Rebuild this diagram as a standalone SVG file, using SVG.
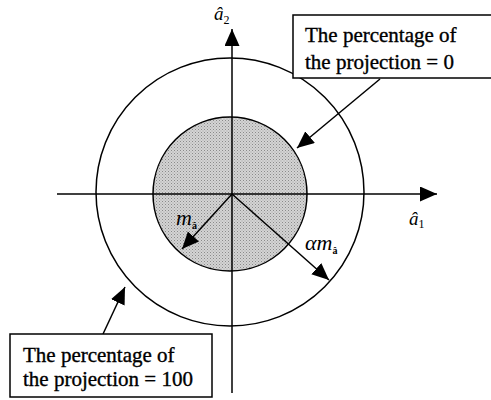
<svg xmlns="http://www.w3.org/2000/svg" width="491" height="400" viewBox="0 0 491 400">
<defs>
<marker id="ah" markerUnits="userSpaceOnUse" markerWidth="20" markerHeight="16" refX="17" refY="7.5" orient="auto">
<path d="M0,0 L17,7.5 L0,15 Z" fill="#000"/>
</marker>
<pattern id="dots" width="3" height="3" patternUnits="userSpaceOnUse">
<rect width="3" height="3" fill="#d4d4d4"/>
<rect width="1" height="1" fill="#8a8a8a"/>
<rect x="1.5" y="1.5" width="1" height="1" fill="#a0a0a0"/>
</pattern>
</defs>
<style>
.ln{stroke:#000;stroke-width:1.5;fill:none}
.box{stroke:#000;stroke-width:1.5;fill:#fff}
.t{font-family:"Liberation Serif","Times New Roman",serif;font-size:21px;fill:#000;stroke:#000;stroke-width:0.35}
.m{font-family:"Liberation Serif","Times New Roman",serif;font-style:italic;font-size:19px;fill:#000}
.v{font-family:"Liberation Serif","Times New Roman",serif;font-style:italic;font-size:22px;fill:#000}
</style>
<rect width="491" height="400" fill="#fff"/>
<g id="outer-circle"><circle cx="230" cy="192" r="134" class="ln"/></g>
<g id="inner-circle"><circle cx="230" cy="194" r="77" fill="url(#dots)" stroke="#000" stroke-width="1.5"/></g>
<g id="axes">
<line x1="57" y1="194" x2="437" y2="194" class="ln" marker-end="url(#ah)"/>
<line x1="232" y1="393" x2="232" y2="29" class="ln" marker-end="url(#ah)"/>
</g>
<g id="connectors">
<line x1="232" y1="194" x2="182" y2="249" class="ln" marker-end="url(#ah)"/>
<line x1="232" y1="194" x2="329" y2="280" class="ln" marker-end="url(#ah)"/>
<line x1="380" y1="79" x2="297" y2="148" class="ln" marker-end="url(#ah)"/>
<line x1="103" y1="334" x2="125" y2="287" class="ln" marker-end="url(#ah)"/>
</g>
<g id="label-a2"><text x="214" y="20" class="m">â<tspan font-size="12" dy="4" font-style="normal">2</tspan></text></g>
<g id="label-a1"><text x="409" y="225" class="m">â<tspan font-size="12" dy="3" font-style="normal">1</tspan></text></g>
<g id="label-m"><text x="176" y="225" class="v">m<tspan font-size="10" dy="4" font-weight="bold" font-style="normal">â</tspan></text></g>
<g id="label-am"><text x="305" y="250" class="v">αm<tspan font-size="10" dy="4" font-weight="bold" font-style="normal">â</tspan></text></g>
<g id="box-0">
<rect x="293" y="15" width="200" height="63" class="box"/>
<text x="305" y="42" class="t">The percentage of</text>
<text x="305" y="69" class="t">the projection = 0</text>
</g>
<g id="box-100">
<rect x="10" y="334" width="202" height="63" class="box"/>
<text x="23" y="362" class="t">The percentage of</text>
<text x="23" y="386" class="t">the projection = 100</text>
</g>
</svg>
